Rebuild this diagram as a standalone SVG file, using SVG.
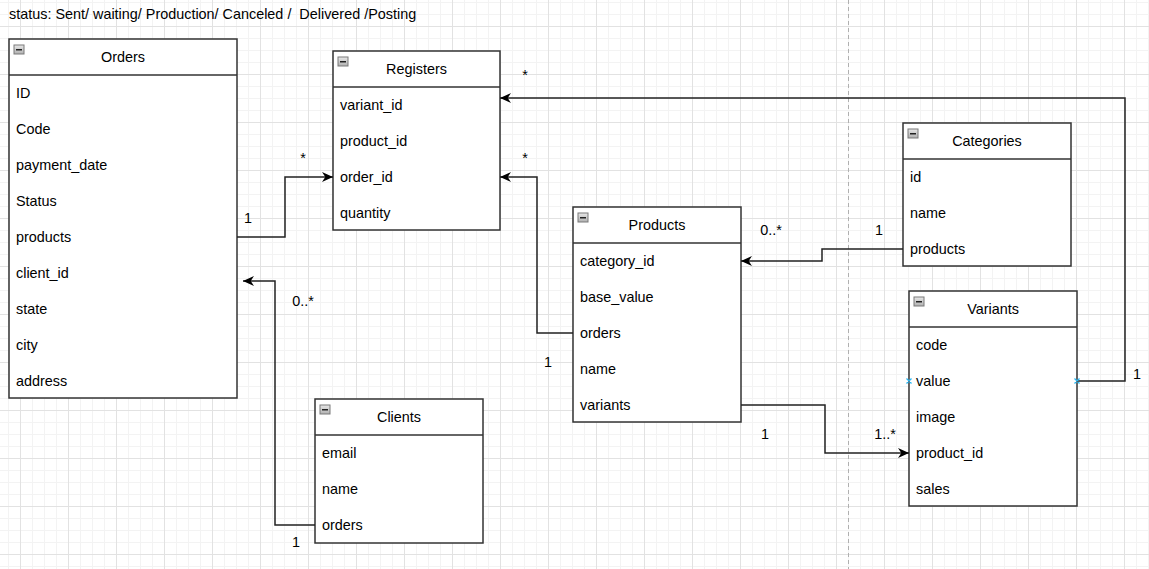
<svg xmlns="http://www.w3.org/2000/svg" width="1149" height="569" viewBox="0 0 1149 569">
<defs>
<pattern id="minor" x="20" y="26" width="12" height="12" patternUnits="userSpaceOnUse">
<rect x="0" y="0" width="1" height="12" fill="#f3f3f3"/>
<rect x="0" y="0" width="12" height="1" fill="#f3f3f3"/>
</pattern>
<pattern id="major" x="20" y="26" width="48" height="48" patternUnits="userSpaceOnUse">
<rect x="0" y="0" width="1" height="48" fill="#e2e2e2"/>
<rect x="0" y="0" width="48" height="1" fill="#e2e2e2"/>
</pattern>
<linearGradient id="mg" x1="0" y1="0" x2="0" y2="1">
<stop offset="0" stop-color="#e8e8e8"/>
<stop offset="1" stop-color="#b0b0b0"/>
</linearGradient>
<marker id="arr" viewBox="0 0 10 9" refX="10" refY="4.5" markerWidth="11" markerHeight="10" markerUnits="userSpaceOnUse" orient="auto">
<path d="M0,0 L10,4.5 L0,9 L3,4.5 Z" fill="#000"/>
</marker>
<g id="minus">
<rect x="0.5" y="0.5" width="10" height="9" fill="url(#mg)" stroke="#7a7a7a" stroke-width="1"/>
<rect x="2.5" y="4.5" width="6" height="1.5" fill="#222"/>
</g>
</defs>
<style>
.box{fill:#fff;stroke:#333;stroke-width:1.5}
.sep{stroke:#333;stroke-width:1.5}
.t{font-family:"Liberation Sans",Arial,sans-serif;font-size:14.4px;fill:#000}
.h{text-anchor:middle}
.lbl{font-family:"Liberation Sans",Arial,sans-serif;font-size:14.4px;fill:#000;text-anchor:middle}
.edge{fill:none;stroke:#222;stroke-width:1.5}
.pt{stroke:#29b6f2;stroke-width:1.3;fill:none}
</style>
<rect width="1149" height="569" fill="#fff"/>
<rect width="1149" height="569" fill="url(#minor)"/>
<rect width="1149" height="569" fill="url(#major)"/>
<line x1="848.5" y1="0" x2="848.5" y2="569" stroke="#b0b0b0" stroke-width="1" stroke-dasharray="4 3"/>

<text class="t" x="9" y="19" xml:space="preserve" style="white-space:pre">status: Sent/ waiting/ Production/ Canceled /  Delivered /Posting</text>

<g id="orders">
<rect class="box" x="9" y="39" width="228" height="359"/>
<line class="sep" x1="9" y1="75" x2="237" y2="75"/>
<use href="#minus" x="13.5" y="44.5"/>
<text class="t h" x="123" y="62">Orders</text>
<text class="t" x="16" y="98">ID</text>
<text class="t" x="16" y="134">Code</text>
<text class="t" x="16" y="170">payment_date</text>
<text class="t" x="16" y="206">Status</text>
<text class="t" x="16" y="242">products</text>
<text class="t" x="16" y="278">client_id</text>
<text class="t" x="16" y="314">state</text>
<text class="t" x="16" y="350">city</text>
<text class="t" x="16" y="386">address</text>
</g>

<g id="registers">
<rect class="box" x="333" y="51" width="167" height="179"/>
<line class="sep" x1="333" y1="87" x2="500" y2="87"/>
<use href="#minus" x="337.5" y="56.5"/>
<text class="t h" x="416.5" y="74">Registers</text>
<text class="t" x="340" y="110">variant_id</text>
<text class="t" x="340" y="146">product_id</text>
<text class="t" x="340" y="182">order_id</text>
<text class="t" x="340" y="218">quantity</text>
</g>

<g id="products">
<rect class="box" x="573" y="207" width="168" height="215"/>
<line class="sep" x1="573" y1="243" x2="741" y2="243"/>
<use href="#minus" x="577.5" y="212.5"/>
<text class="t h" x="657" y="230">Products</text>
<text class="t" x="580" y="266">category_id</text>
<text class="t" x="580" y="302">base_value</text>
<text class="t" x="580" y="338">orders</text>
<text class="t" x="580" y="374">name</text>
<text class="t" x="580" y="410">variants</text>
</g>

<g id="categories">
<rect class="box" x="903" y="123" width="168" height="143"/>
<line class="sep" x1="903" y1="159" x2="1071" y2="159"/>
<use href="#minus" x="907.5" y="128.5"/>
<text class="t h" x="987" y="146">Categories</text>
<text class="t" x="910" y="182">id</text>
<text class="t" x="910" y="218">name</text>
<text class="t" x="910" y="254">products</text>
</g>

<g id="variants">
<rect class="box" x="909" y="291" width="168" height="215"/>
<line class="sep" x1="909" y1="327" x2="1077" y2="327"/>
<use href="#minus" x="913.5" y="296.5"/>
<text class="t h" x="993" y="314">Variants</text>
<text class="t" x="916" y="350">code</text>
<text class="t" x="916" y="386">value</text>
<text class="t" x="916" y="422">image</text>
<text class="t" x="916" y="458">product_id</text>
<text class="t" x="916" y="494">sales</text>
</g>

<g id="clients">
<rect class="box" x="315" y="399" width="168" height="144"/>
<line class="sep" x1="315" y1="435" x2="483" y2="435"/>
<use href="#minus" x="319.5" y="404.5"/>
<text class="t h" x="399" y="422">Clients</text>
<text class="t" x="322" y="458">email</text>
<text class="t" x="322" y="494">name</text>
<text class="t" x="322" y="530">orders</text>
</g>

<g id="connectors">
<path class="edge" d="M237,237 H285 V177 H333" marker-end="url(#arr)"/>
<path class="edge" d="M315,525 H275 V281 H243" marker-end="url(#arr)"/>
<path class="edge" d="M573,333 H537 V177 H500" marker-end="url(#arr)"/>
<path class="edge" d="M1077,381 H1125 V98 H500" marker-end="url(#arr)"/>
<path class="edge" d="M903,249 H822 V261 H741" marker-end="url(#arr)"/>
<path class="edge" d="M741,405 H825 V453 H909" marker-end="url(#arr)"/>
<path class="pt" d="M906.5,378.5 l5,5 M911.5,378.5 l-5,5 M1074.5,378.5 l5,5 M1079.5,378.5 l-5,5"/>
<text class="lbl" x="248" y="223">1</text>
<text class="lbl" x="303" y="163">*</text>
<text class="lbl" x="303" y="306">0..*</text>
<text class="lbl" x="296" y="547">1</text>
<text class="lbl" x="525" y="163">*</text>
<text class="lbl" x="548" y="367">1</text>
<text class="lbl" x="525" y="80">*</text>
<text class="lbl" x="1137" y="379">1</text>
<text class="lbl" x="771" y="235">0..*</text>
<text class="lbl" x="879" y="235">1</text>
<text class="lbl" x="765" y="439">1</text>
<text class="lbl" x="885" y="439">1..*</text>
</g>
</svg>
